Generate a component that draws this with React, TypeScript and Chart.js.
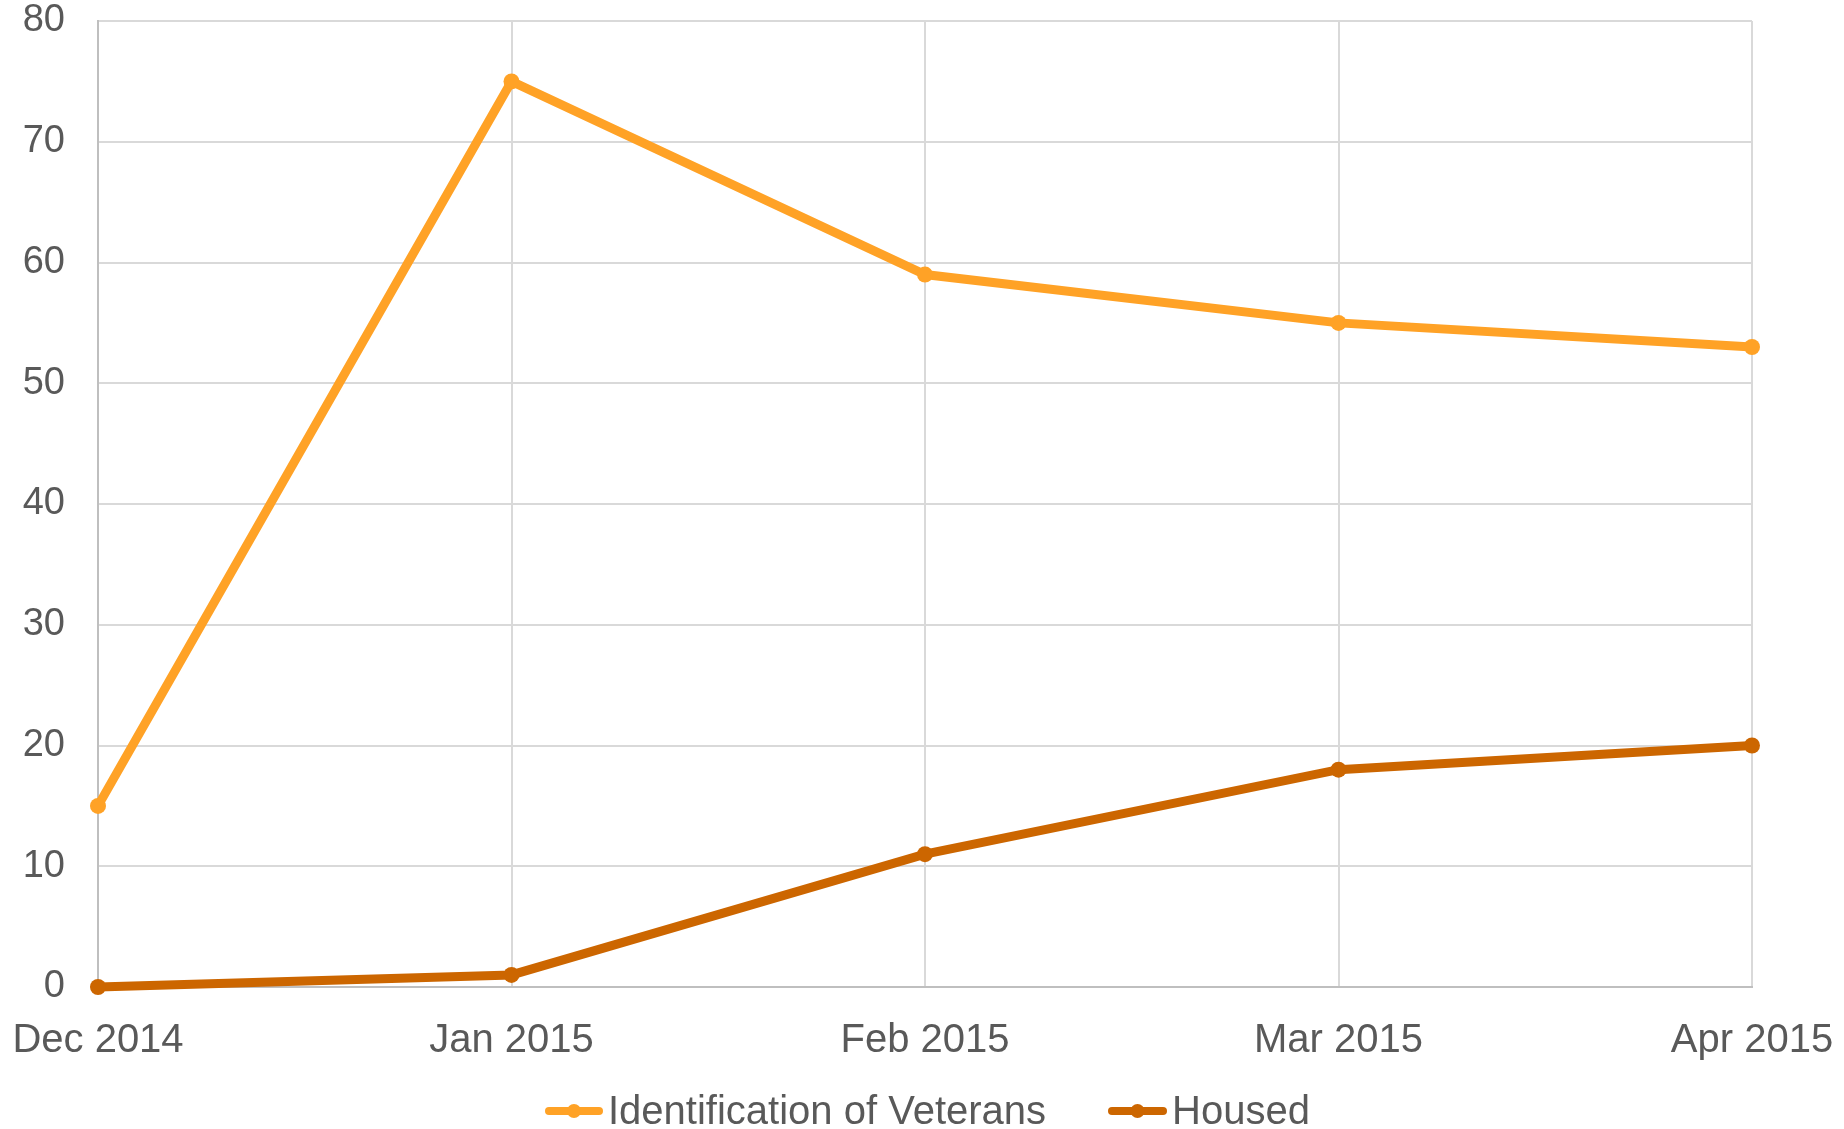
import React, { useEffect, useRef } from "react";
import { Chart, registerables } from "chart.js";

Chart.register(...registerables);

const categories = ["Dec 2014", "Jan 2015", "Feb 2015", "Mar 2015", "Apr 2015"];
const identificationValues = [15, 75, 59, 55, 53];
const housedValues = [0, 1, 11, 18, 20];
const seriesNames = ["Identification of Veterans", "Housed"];
const yTicks = [0, 10, 20, 30, 40, 50, 60, 70, 80];

const LIGHT = "#FFA226";
const DARK = "#CC6600";
const TEXT = "#595959";
const FONT = "'Liberation Sans', Arial, sans-serif";

const legendPlugin = {
  id: "bottomLegend",
  afterDraw(chart: any) {
    const ctx = chart.ctx;
    const items = [
      { x0: 545, x1: 603, tx: 608, color: LIGHT, text: seriesNames[0] },
      { x0: 1108, x1: 1167, tx: 1172, color: DARK, text: seriesNames[1] },
    ];
    const y = 1111;
    ctx.save();
    for (const it of items) {
      ctx.strokeStyle = it.color;
      ctx.lineWidth = 8;
      ctx.lineCap = "round";
      ctx.beginPath();
      ctx.moveTo(it.x0 + 4, y);
      ctx.lineTo(it.x1 - 4, y);
      ctx.stroke();
      ctx.fillStyle = it.color;
      ctx.beginPath();
      ctx.arc((it.x0 + it.x1) / 2, y, 7, 0, Math.PI * 2);
      ctx.fill();
      ctx.fillStyle = TEXT;
      ctx.font = "40px " + FONT;
      ctx.textBaseline = "alphabetic";
      ctx.textAlign = "left";
      ctx.fillText(it.text, it.tx, 1124);
    }
    ctx.restore();
  },
};

export default function App() {
  const ref = useRef<HTMLCanvasElement | null>(null);
  useEffect(() => {
    document.body.style.margin = "0";
    const canvas = ref.current!;
    const chart = new Chart(canvas, {
      type: "line",
      data: {
        labels: categories,
        datasets: [
          {
            label: seriesNames[0],
            data: identificationValues,
            borderColor: LIGHT,
            backgroundColor: LIGHT,
            borderWidth: 9,
            pointRadius: 8,
            pointHoverRadius: 8,
            pointBorderWidth: 0,
            tension: 0,
            clip: false,
          },
          {
            label: seriesNames[1],
            data: housedValues,
            borderColor: DARK,
            backgroundColor: DARK,
            borderWidth: 9,
            pointRadius: 8,
            pointHoverRadius: 8,
            pointBorderWidth: 0,
            tension: 0,
            clip: false,
          },
        ],
      },
      options: {
        animation: false,
        responsive: false,
        maintainAspectRatio: false,
        layout: { padding: { left: 0, right: 0, top: 21, bottom: 0 } },
        plugins: {
          legend: { display: false },
          tooltip: { enabled: false },
        },
        scales: {
          x: {
            offset: false,
            grid: { color: "#D9D9D9", lineWidth: 2, drawTicks: false },
            border: { color: "#BFBFBF", width: 2 },
            ticks: {
              color: TEXT,
              font: { family: FONT, size: 40 },
              padding: 30,
              maxRotation: 0,
              autoSkip: false,
            },
            afterFit(scale: any) {
              scale.height = 1129 - 21 - 966;
              scale.paddingLeft = 0;
              scale.paddingRight = 1844 - 1752;
            },
          },
          y: {
            min: 0,
            max: 80,
            afterBuildTicks(scale: any) {
              scale.ticks = yTicks.map((v) => ({ value: v }));
            },
            grid: { color: "#D9D9D9", lineWidth: 2, drawTicks: false },
            border: { color: "#BFBFBF", width: 2 },
            ticks: {
              color: TEXT,
              font: { family: FONT, size: 38 },
              padding: 33,
            },
            afterFit(scale: any) {
              scale.width = 98;
              scale.paddingTop = 0;
              scale.paddingBottom = 0;
            },
          },
        },
      },
      plugins: [legendPlugin],
    });
    return () => chart.destroy();
  }, []);
  return (
    <div style={{ position: "absolute", left: 0, top: 0, width: 1844, height: 1129 }}>
      <canvas ref={ref} width={1844} height={1129} style={{ width: 1844, height: 1129 }} />
    </div>
  );
}
